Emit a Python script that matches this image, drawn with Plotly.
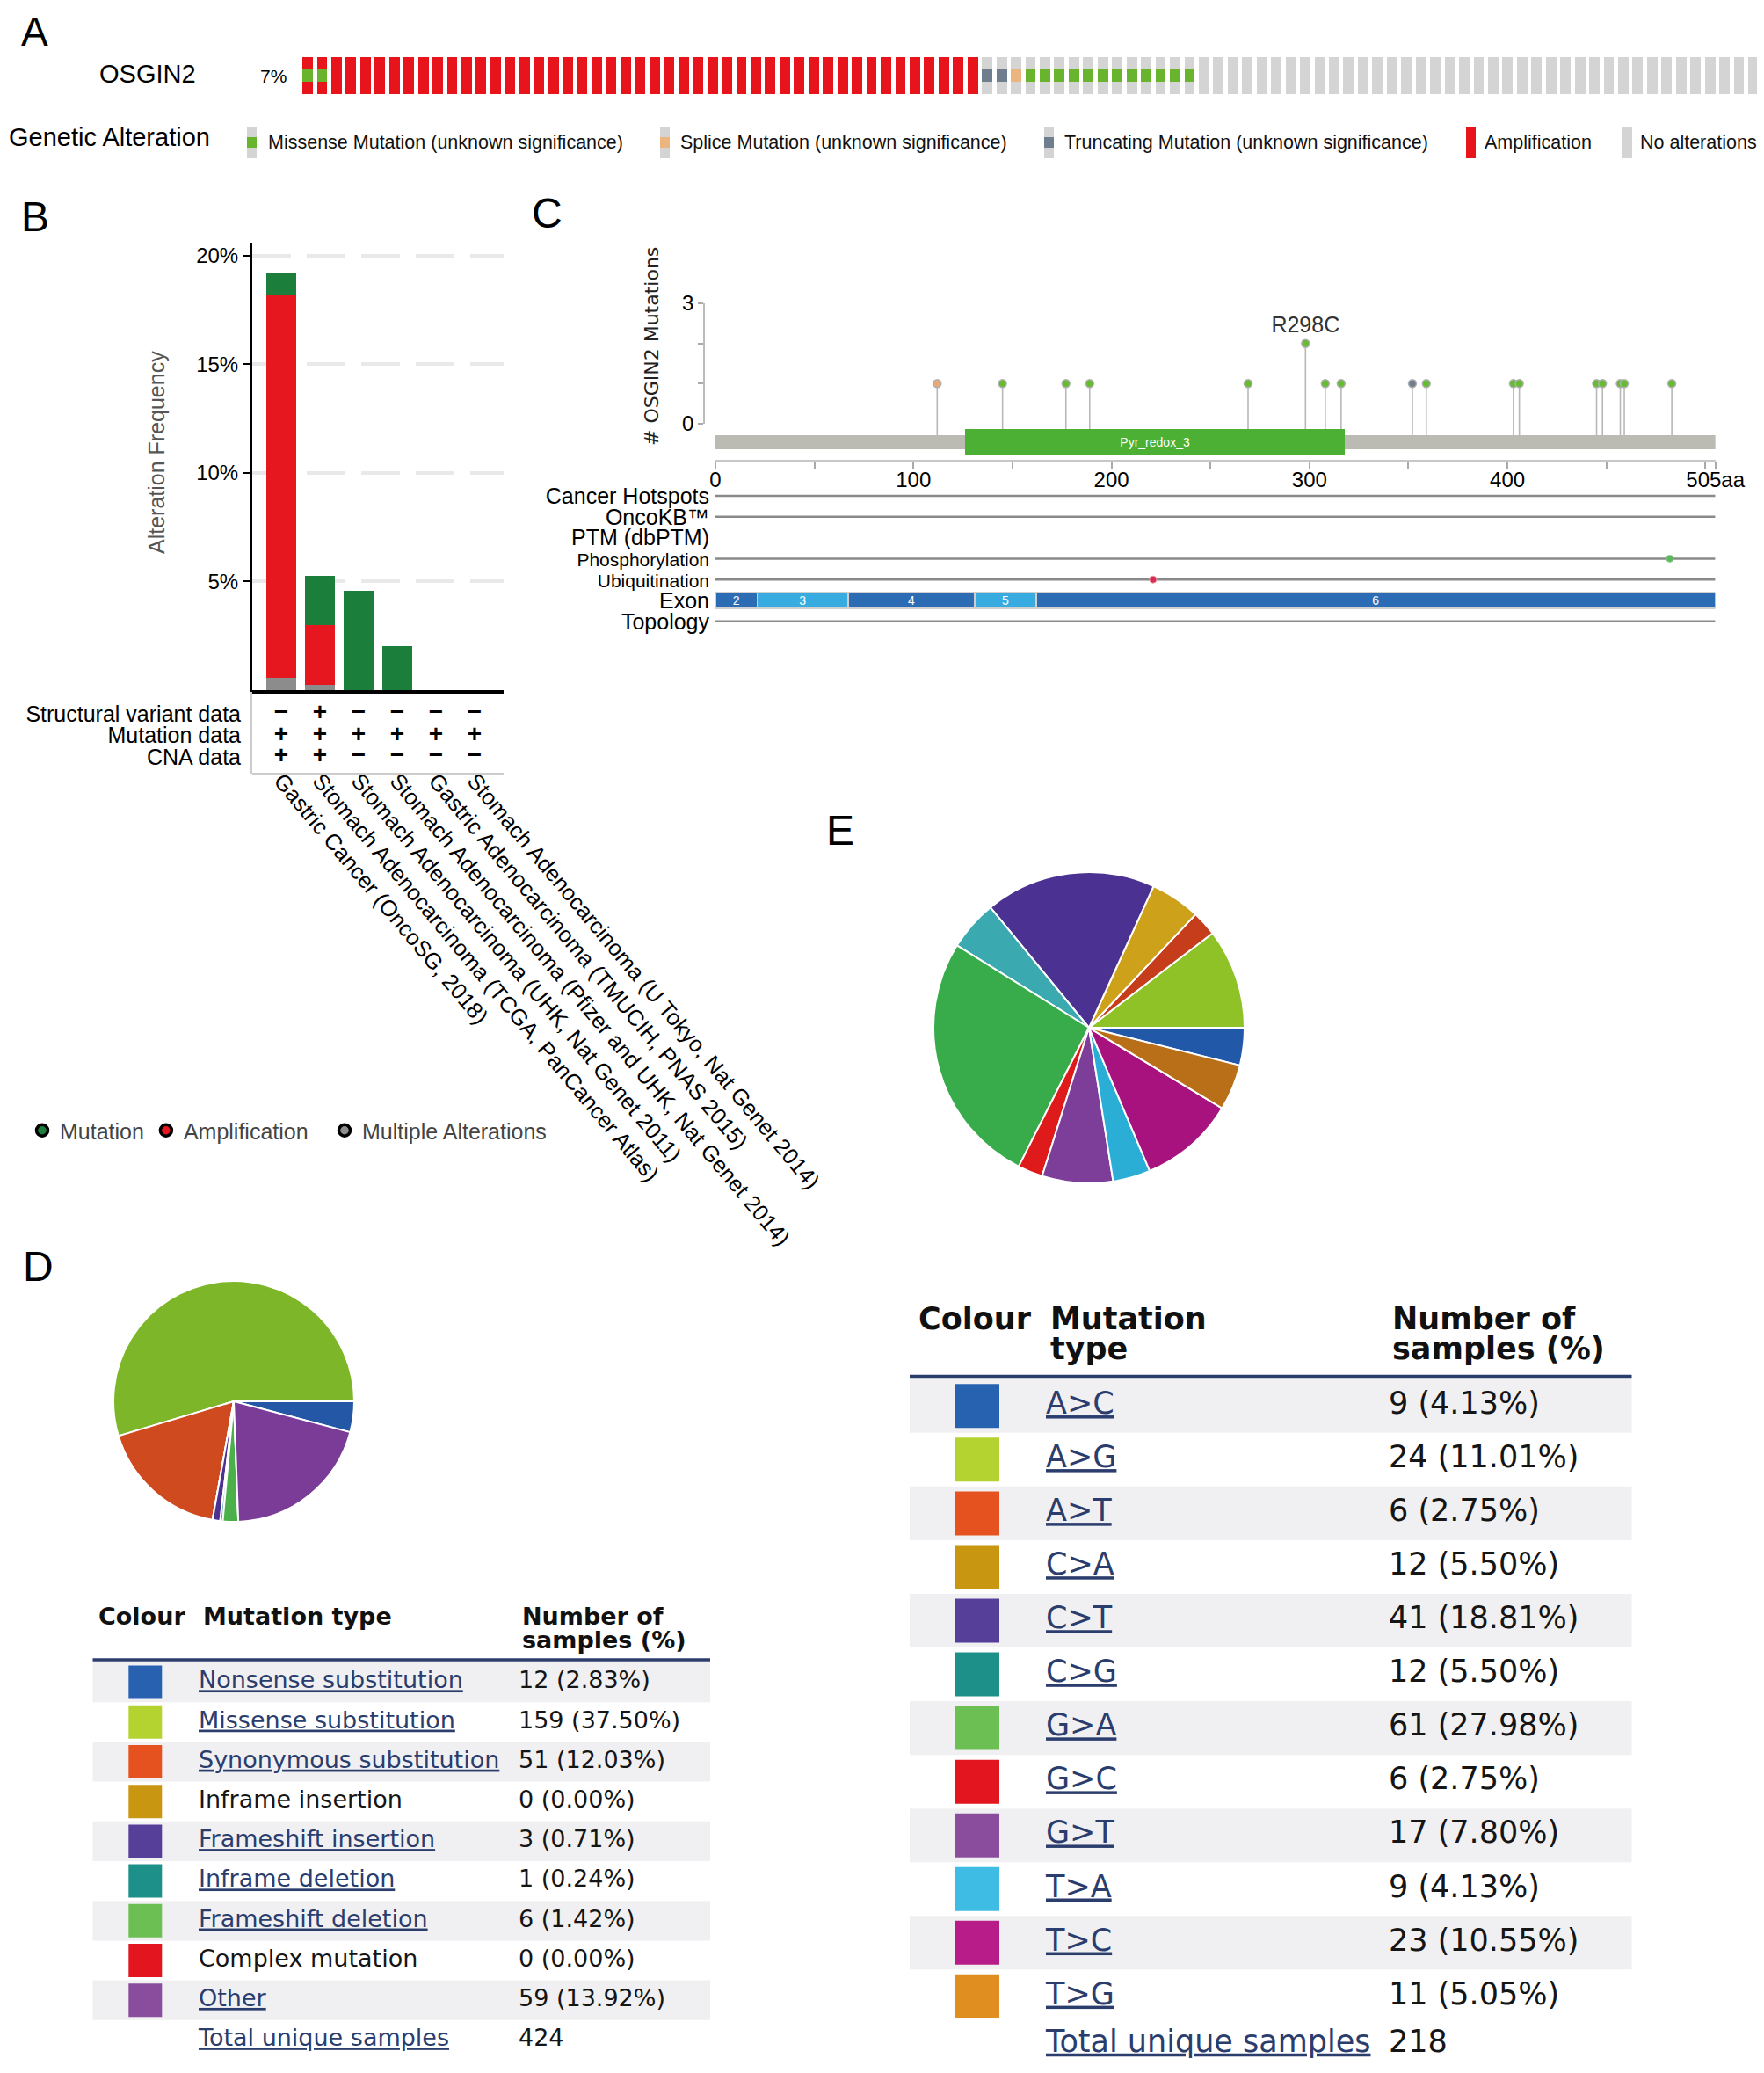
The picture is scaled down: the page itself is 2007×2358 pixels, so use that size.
import plotly.graph_objects as go

W, H = 2007, 2358          # reference picture size (px)
OFF = 8                    # page body margin that offsets the figure
FW, FH = W - OFF, H - 2 * OFF  # figure size so that figure px + OFF = picture px (no scrollbar)
ARIAL = "Liberation Sans, Arial, sans-serif"
VERD = "DejaVu Sans, Verdana, sans-serif"


def fx(p):
    return (p - OFF) / FW


def fy(p):
    return 1 - (p - OFF) / FH


def dom_x(a, b):
    return [fx(a), fx(b)]


def dom_y(top, bottom):
    return [fy(bottom), fy(top)]


# ============================ DATA ============================
# --- A: OncoPrint (samples in display order) ---
gene_name = "OSGIN2"
gene_freq = "7%"
alteration_types = ["Missense Mutation (unknown significance)",
                    "Splice Mutation (unknown significance)",
                    "Truncating Mutation (unknown significance)",
                    "Amplification", "No alterations"]
n_amp_with_missense = 2
n_amp_only = 45
n_truncating = 2
n_splice = 1
n_missense = 12
n_unaltered = 39

# --- B: cancer types summary ---
studies = ["Gastric Cancer (OncoSG, 2018)",
           "Stomach Adenocarcinoma (TCGA, PanCancer Atlas)",
           "Stomach Adenocarcinoma (UHK, Nat Genet 2011)",
           "Stomach Adenocarcinoma (Pfizer and UHK, Nat Genet 2014)",
           "Gastric Adenocarcinoma (TMUCIH, PNAS 2015)",
           "Stomach Adenocarcinoma (U Tokyo, Nat Genet 2014)"]
freq_multiple = [0.55, 0.26, 0.0, 0.0, 0.0, 0.0]
freq_amplification = [17.60, 2.72, 0.0, 0.0, 0.0, 0.0]
freq_mutation = [1.07, 2.26, 4.57, 2.02, 0.0, 0.0]
freq_ticks = [5, 10, 15, 20]
profile_rows = ["Structural variant data", "Mutation data", "CNA data"]
has_sv = [False, True, False, False, False, False]
has_mutation = [True, True, True, True, True, True]
has_cna = [True, True, False, False, False, False]
b_legend = ["Mutation", "Amplification", "Multiple Alterations"]

# --- C: lollipop plot ---
protein_length = 505
mut_position = [112, 145, 177, 189, 269, 298, 308, 316, 352, 359,
                403, 406, 445, 448, 457, 459, 483]
mut_count = [1, 1, 1, 1, 1, 2, 1, 1, 1, 1, 1, 1, 1, 1, 1, 1, 1]
mut_class = ["Splice", "Missense", "Missense", "Missense", "Missense",
             "Missense", "Missense", "Missense", "Truncating", "Missense",
             "Missense", "Missense", "Missense", "Missense", "Missense",
             "Missense", "Missense"]
top_mutation_label = "R298C"
domain_name = "Pyr_redox_3"
domain_start, domain_end = 126, 318
exon_start = [0, 21, 67, 131, 162]
exon_end = [21, 67, 131, 162, 505]
exon_name = ["2", "3", "4", "5", "6"]
phospho_sites = [482]
ubiquitin_sites = [221]
track_names = ["Cancer Hotspots", "OncoKB™", "PTM (dbPTM)", "Phosphorylation",
               "Ubiquitination", "Exon", "Topology"]
pos_ticks = [0, 50, 100, 150, 200, 250, 300, 350, 400, 450, 500, 505]
pos_ticktext = ["0", "", "100", "", "200", "", "300", "", "400", "", "", "505aa"]
count_ticks = [0, 1, 2, 3]
count_ticktext = ["0", "", "", "3"]

# --- D: mutation type table ---
d_types = ["Nonsense substitution", "Missense substitution", "Synonymous substitution",
           "Inframe insertion", "Frameshift insertion", "Inframe deletion",
           "Frameshift deletion", "Complex mutation", "Other"]
d_counts = [12, 159, 51, 0, 3, 1, 6, 0, 59]
d_linked = [True, True, True, False, True, True, True, False, True]
d_total = 424

# --- E: substitution table ---
e_types = ["A>C", "A>G", "A>T", "C>A", "C>T", "C>G", "G>A", "G>C", "G>T", "T>A", "T>C", "T>G"]
e_counts = [9, 24, 6, 12, 41, 12, 61, 6, 17, 9, 23, 11]
e_total = 218

# ============================ STYLE ============================
RED = "#e6171f"
GREEN_B = "#1b7f3b"
GRAY_B = "#8c8c8c"
alt_color = {alteration_types[0]: "#68b42c", alteration_types[1]: "#ecb47e",
             alteration_types[2]: "#6f7e8f", alteration_types[3]: "#e8141c",
             alteration_types[4]: "#d4d4d4"}
head_color = {"Missense": "#66bb33", "Splice": "#e9a874", "Truncating": "#6f7e8f"}
d_swatch = ["#2961b1", "#b5d330", "#e6521f", "#c99612", "#553f99", "#1d9189",
            "#6cbf53", "#e3151f", "#8a4c9d"]
d_pie = ["#2457a6", "#7db729", "#cf4a1e", "#c99612", "#4b3192", "#1e9189",
         "#4cb04a", "#e3151f", "#7b3c98"]
e_swatch = ["#2762b0", "#b5d330", "#e6521f", "#c99612", "#553f99", "#1d9189",
            "#6cbf53", "#e3151f", "#8a4c9d", "#3fbce3", "#b81c89", "#e08e1f"]
e_pie = ["#2158a8", "#8ec226", "#c63d1c", "#cda21a", "#4b3292", "#3aaab0",
         "#38ab4a", "#de1a1a", "#7d3e9a", "#2aaed6", "#a8127e", "#b96e18"]
LINK = "#2b3d6d"
BAND = "#f0f0f2"

fig = go.Figure()

# ============================ A: OncoPrint ============================
cna_state = ([alteration_types[3]] * (n_amp_with_missense + n_amp_only)
             + [alteration_types[4]] * (n_truncating + n_splice + n_missense + n_unaltered))
mut_state = ([alteration_types[0]] * n_amp_with_missense + [None] * n_amp_only
             + [alteration_types[2]] * n_truncating + [alteration_types[1]] * n_splice
             + [alteration_types[0]] * n_missense + [None] * n_unaltered)
n_samples = len(cna_state)
idx = list(range(n_samples))
fig.add_trace(go.Bar(x=idx, y=[1] * n_samples, base=[0] * n_samples, width=0.72,
                     marker=dict(color=[alt_color[s] for s in cna_state], line=dict(width=0)),
                     xaxis="x", yaxis="y", showlegend=False, hoverinfo="skip"))
mut_idx = [i for i in idx if mut_state[i]]
fig.add_trace(go.Bar(x=mut_idx, y=[1 / 3] * len(mut_idx), base=[1 / 3] * len(mut_idx), width=0.72,
                     marker=dict(color=[alt_color[mut_state[i]] for i in mut_idx], line=dict(width=0)),
                     xaxis="x", yaxis="y", showlegend=False, hoverinfo="skip"))
ONCO_C0, ONCO_P = 350.0, 16.45

# ============================ B: cancer types ============================
for vals, col in [(freq_multiple, GRAY_B), (freq_amplification, RED), (freq_mutation, GREEN_B)]:
    fig.add_trace(go.Bar(x=studies, y=vals, width=0.77, marker=dict(color=col, line=dict(width=0)),
                         xaxis="x2", yaxis="y2", showlegend=False, hoverinfo="skip"))
for name, col, lg in zip(b_legend, [GREEN_B, RED, GRAY_B], ["legend", "legend", "legend2"]):
    fig.add_trace(go.Scatter(x=[None], y=[None], mode="markers", name=name, legend=lg,
                             marker=dict(symbol="circle", size=13, color=col,
                                         line=dict(color="black", width=3.5)),
                             xaxis="x2", yaxis="y2", showlegend=True, hoverinfo="skip"))
# profile table (+ / -)
tx, ty, tt = [], [], []
for r, flags in enumerate([has_sv, has_mutation, has_cna]):
    for s, f in zip(studies, flags):
        tx.append(s)
        ty.append(r)
        tt.append("+" if f else "−")
fig.add_trace(go.Scatter(x=tx, y=ty, text=tt, mode="text", textposition="middle center",
                         textfont=dict(family=ARIAL, size=28, color="black", weight="bold"),
                         xaxis="x2", yaxis="y6", showlegend=False, hoverinfo="skip", cliponaxis=False))

# ============================ C: lollipop ============================
UNIT = 45.67          # px per mutation count
Y0 = 482.0            # px of count 0


def cy(p):
    return (Y0 - p) / UNIT


BACKBONE_Y, BACKBONE_H = cy(503), 16 / UNIT
DOMAIN_Y, DOMAIN_H = cy(502.5), 29 / UNIT
stem_x, stem_y = [], []
for p, c in zip(mut_position, mut_count):
    inside = domain_start <= p <= domain_end
    stem_x += [p, p, None]
    stem_y += [cy(488) if inside else cy(495), c, None]
fig.add_trace(go.Scatter(x=stem_x, y=stem_y, mode="lines", line=dict(color="#b8b8b8", width=1.6),
                         xaxis="x3", yaxis="y3", showlegend=False, hoverinfo="skip"))
fig.add_trace(go.Bar(orientation="h", y=[BACKBONE_Y], x=[protein_length], base=[0], width=BACKBONE_H,
                     marker=dict(color="#bbbbb4", line=dict(width=0)),
                     xaxis="x3", yaxis="y3", showlegend=False, hoverinfo="skip"))
fig.add_trace(go.Bar(orientation="h", y=[DOMAIN_Y], x=[domain_end - domain_start], base=[domain_start],
                     width=DOMAIN_H, marker=dict(color="#4cb034", line=dict(width=0)),
                     text=[domain_name], textposition="inside", insidetextanchor="middle", textangle=0,
                     constraintext="none", textfont=dict(family=ARIAL, size=14, color="white"),
                     xaxis="x3", yaxis="y3", showlegend=False, hoverinfo="skip"))
max_c = max(mut_count)
fig.add_trace(go.Scatter(x=mut_position, y=mut_count, mode="markers+text",
                         marker=dict(size=9, color=[head_color[c] for c in mut_class],
                                     line=dict(color="#b0b0b0", width=1.5)),
                         text=[top_mutation_label if c == max_c else "" for c in mut_count],
                         textposition="top center", textfont=dict(family=ARIAL, size=25, color="#333"),
                         xaxis="x3", yaxis="y4", showlegend=False, hoverinfo="skip", cliponaxis=False))
# feature tracks
line_x, line_y = [], []
for i, t in enumerate(track_names):
    if t in ("PTM (dbPTM)", "Exon"):
        continue
    line_x += [0, protein_length, None]
    line_y += [i, i, None]
fig.add_trace(go.Scatter(x=line_x, y=line_y, mode="lines", line=dict(color="#8a8a8a", width=2.5),
                         xaxis="x3", yaxis="y5", showlegend=False, hoverinfo="skip"))
exon_row = track_names.index("Exon")
fig.add_trace(go.Bar(orientation="h", y=[exon_row] * len(exon_start),
                     x=[e - s for s, e in zip(exon_start, exon_end)], base=exon_start, width=0.76,
                     marker=dict(color=["#2c6cb4" if i % 2 == 0 else "#38ace0" for i in range(len(exon_start))],
                                 line=dict(color="#cfcfcf", width=1.5)),
                     text=exon_name, textposition="inside", insidetextanchor="middle", constraintext="none",
                     textangle=0, textfont=dict(family=ARIAL, size=14, color="white"),
                     xaxis="x3", yaxis="y5", showlegend=False, hoverinfo="skip"))
fig.add_trace(go.Scatter(x=phospho_sites, y=[track_names.index("Phosphorylation")] * len(phospho_sites),
                         mode="markers", marker=dict(size=8, color="#5cb85c", line=dict(color="#9bd09b", width=1)),
                         xaxis="x3", yaxis="y5", showlegend=False, hoverinfo="skip", cliponaxis=False))
fig.add_trace(go.Scatter(x=ubiquitin_sites, y=[track_names.index("Ubiquitination")] * len(ubiquitin_sites),
                         mode="markers", marker=dict(size=8, color="#d42a5b", line=dict(color="#e99", width=1)),
                         xaxis="x3", yaxis="y5", showlegend=False, hoverinfo="skip", cliponaxis=False))
track_ticktext = [f'<span style="font-size:21px">{t}</span>' if t in ("Phosphorylation", "Ubiquitination") else t
                  for t in track_names]

# ============================ D / E pies ============================
fig.add_trace(go.Pie(values=d_counts, labels=d_types, marker=dict(colors=d_pie, line=dict(color="white", width=2)),
                     sort=False, direction="counterclockwise", rotation=90, textinfo="none",
                     domain=dict(x=dom_x(129, 403), y=dom_y(1457, 1731)), showlegend=False, hoverinfo="label+value"))
fig.add_trace(go.Pie(values=e_counts, labels=e_types, marker=dict(colors=e_pie, line=dict(color="white", width=2)),
                     sort=False, direction="counterclockwise", rotation=90, textinfo="none",
                     domain=dict(x=dom_x(1062, 1416), y=dom_y(992, 1346)), showlegend=False, hoverinfo="label+value"))


# ============================ tables ============================
def link(s):
    return f'<span style="text-decoration:underline">{s}</span>'


shapes = []


def add_table(xa, ya, names, counts, total, linked, colors, fs, sw, col_sw, col_txt, col_num,
              headers, rule_row, total_row, rule_w):
    n = len(names)
    rows = list(range(n))
    for r in range(0, n, 2):
        shapes.append(dict(type="rect", xref=f"{xa} domain", x0=0, x1=1, yref=ya, y0=r - 0.5, y1=r + 0.5,
                           fillcolor=BAND, line=dict(width=0), layer="below"))
    shapes.append(dict(type="line", xref=f"{xa} domain", x0=0, x1=1, yref=ya, y0=rule_row, y1=rule_row,
                       line=dict(color="#2b3d6b", width=rule_w)))
    fig.add_trace(go.Scatter(x=[col_sw] * n, y=rows, mode="markers",
                             marker=dict(symbol="square", size=sw, color=colors, line=dict(width=0)),
                             xaxis=xa, yaxis=ya, showlegend=False, hoverinfo="skip", cliponaxis=False))
    txt = [link(s) if l else s for s, l in zip(names, linked)] + [link("Total unique samples")]
    tcol = [LINK if l else "#151515" for l in linked] + [LINK]
    fig.add_trace(go.Scatter(x=[col_txt] * (n + 1), y=rows + [total_row], mode="text", text=txt,
                             textposition="middle right", textfont=dict(family=VERD, size=fs, color=tcol),
                             xaxis=xa, yaxis=ya, showlegend=False, hoverinfo="skip", cliponaxis=False))
    nums = [f"{c} ({100 * c / total:.2f}%)" for c in counts] + [str(total)]
    fig.add_trace(go.Scatter(x=[col_num] * (n + 1), y=rows + [total_row], mode="text", text=nums,
                             textposition="middle right", textfont=dict(family=VERD, size=fs, color="#151515"),
                             xaxis=xa, yaxis=ya, showlegend=False, hoverinfo="skip", cliponaxis=False))
    fig.add_trace(go.Scatter(x=[h[0] for h in headers], y=[h[1] for h in headers],
                             text=[f"<b>{h[2]}</b>" for h in headers], mode="text",
                             textposition="middle right", textfont=dict(family=VERD, size=fs, color="#111"),
                             xaxis=xa, yaxis=ya, showlegend=False, hoverinfo="skip", cliponaxis=False))


# D table geometry (px)
D_R0, D_P = 1913.6, 45.2


def drow(p):
    return (p - D_R0) / D_P


add_table("x4", "y7", d_types, d_counts, d_total, d_linked, d_swatch, 27, 38, 165.3, 226, 590,
          [(112, drow(1841), "Colour"), (231, drow(1841), "Mutation type"),
           (594, drow(1841), "Number of"), (594, drow(1868), "samples (%)")],
          drow(1888), 9, 3.5)
E_R0, E_P = 1599.3, 61.05


def erow(p):
    return (p - E_R0) / E_P


add_table("x5", "y8", e_types, e_counts, e_total, [True] * len(e_types), e_swatch, 35, 50, 1112, 1190, 1580,
          [(1045, erow(1503), "Colour"), (1195, erow(1503), "Mutation"), (1195, erow(1537), "type"),
           (1584, erow(1503), "Number of"), (1584, erow(1537), "samples (%)")],
          erow(1566), erow(2325), 4.5)

# ============================ annotations ============================
ann = []
for letter, x, y, fsz in [("A", 22, 36, 46), ("B", 22, 246, 48), ("C", 603, 243, 48),
                          ("D", 24, 1440, 48), ("E", 938, 944, 48)]:
    ann.append(dict(text=letter, x=fx(x), y=fy(y), xref="paper", yref="paper", xanchor="left",
                    yanchor="middle", showarrow=False, font=dict(family=ARIAL, size=fsz, color="black")))
ann.append(dict(text=gene_name, x=fx(168), y=fy(84), xref="paper", yref="paper", xanchor="center",
                yanchor="middle", showarrow=False, font=dict(family=ARIAL, size=29, color="black")))
ann.append(dict(text=gene_freq, x=fx(311), y=fy(86), xref="paper", yref="paper", xanchor="center",
                yanchor="middle", showarrow=False, font=dict(family=ARIAL, size=21, color="black")))
ann.append(dict(text="Genetic Alteration", x=fx(8), y=fy(156), xref="paper", yref="paper", xanchor="left",
                yanchor="middle", showarrow=False, font=dict(family=ARIAL, size=29, color="black")))
legA_glyph_x = [281, 751, 1188, 1668, 1846]
legA_text_x = [303, 772, 1209, 1687, 1864]
for t, gx, tx_ in zip(alteration_types, legA_glyph_x, legA_text_x):
    is_cna = t in (alteration_types[3], alteration_types[4])
    shapes.append(dict(type="rect", xref="paper", yref="paper", x0=fx(gx), x1=fx(gx + 11), y0=fy(180), y1=fy(145),
                       fillcolor=alt_color[t] if is_cna else alt_color[alteration_types[4]], line=dict(width=0)))
    if not is_cna:
        shapes.append(dict(type="rect", xref="paper", yref="paper", x0=fx(gx), x1=fx(gx + 11), y0=fy(168),
                           y1=fy(156), fillcolor=alt_color[t], line=dict(width=0)))
    ann.append(dict(text=t, x=fx(tx_), y=fy(162), xref="paper", yref="paper", xanchor="left", yanchor="middle",
                    showarrow=False, font=dict(family=ARIAL, size=21.5, color="#111")))
ann.append(dict(text="Alteration Frequency", textangle=-90, x=fx(178), y=fy(515), xref="paper", yref="paper",
                xanchor="center", yanchor="middle", showarrow=False, font=dict(family=ARIAL, size=25, color="#555")))
ann.append(dict(text="# OSGIN2 Mutations", textangle=-90, x=fx(741), y=fy(394), xref="paper", yref="paper",
                xanchor="center", yanchor="middle", showarrow=False, font=dict(family=VERD, size=22, color="#222")))
# bottom rule of profile table
shapes.append(dict(type="line", xref="x2 domain", x0=0, x1=1, yref="y6 domain", y0=0, y1=0,
                   line=dict(color="#cccccc", width=2)))

# ============================ layout ============================
hidden = dict(visible=False, showgrid=False, zeroline=False, automargin=False)
legend_style = dict(orientation="h", yanchor="middle", xanchor="left", traceorder="normal",
                    font=dict(family=ARIAL, size=25, color="#444"), bgcolor="rgba(0,0,0,0)",
                    itemclick=False, itemdoubleclick=False)
fig.update_layout(
    template="none",
    width=FW, height=FH, margin=dict(l=0, r=0, t=0, b=0, pad=0, autoexpand=False),
    paper_bgcolor="white", plot_bgcolor="rgba(0,0,0,0)",
    font=dict(family=ARIAL, color="black"),
    barmode="stack", showlegend=True,
    legend=dict(x=fx(28), y=fy(1286), **legend_style),
    legend2=dict(x=fx(372), y=fy(1286), **legend_style),
    xaxis=dict(domain=dom_x(ONCO_C0 - ONCO_P / 2, ONCO_C0 + ONCO_P * (n_samples - 0.5)),
               range=[-0.5, n_samples - 0.5], anchor="y", **hidden),
    yaxis=dict(domain=dom_y(65, 107), range=[0, 1], anchor="x", **hidden),
    xaxis2=dict(domain=dom_x(287, 573), range=[-0.75, 5.75], anchor="y2", type="category",
                showline=True, linecolor="black", linewidth=4, ticks="", showgrid=False, zeroline=False,
                automargin=False,
                tickangle=50, ticklabelstandoff=74, tickfont=dict(family=ARIAL, size=25.5, color="black")),
    yaxis2=dict(domain=dom_y(276, 785), range=[0, (785 - 276) / 24.72], anchor="x2",
                tickvals=freq_ticks, ticktext=[f"{v}%" for v in freq_ticks],
                ticks="outside", ticklen=8, tickwidth=2, tickcolor="black", automargin=False,
                showline=True, linecolor="black", linewidth=3, zeroline=False,
                showgrid=True, gridcolor="#e9e9e9", gridwidth=3.5, griddash="44px,18px",
                tickfont=dict(family=ARIAL, size=24, color="black")),
    yaxis6=dict(domain=dom_y(787, 880), range=[(880 - 812) / 24.5, (787 - 812) / 24.5], anchor="x2",
                tickvals=[0, 1, 2], ticktext=profile_rows, ticks="", showline=True, linecolor="#cccccc",
                linewidth=2, showgrid=False, zeroline=False, ticklabelstandoff=6, automargin=False,
                tickfont=dict(family=ARIAL, size=25, color="black")),
    xaxis3=dict(domain=dom_x(814, 814 + protein_length * 2.2528), range=[0, protein_length], anchor="y3",
                tickvals=pos_ticks, ticktext=pos_ticktext, ticks="outside", ticklen=8, tickwidth=1.5,
                tickcolor="#aaaaaa", showline=True, linecolor="#c8c8c8", linewidth=3, automargin=False,
                ticklabelstandoff=-9,
                showgrid=False, zeroline=False, tickfont=dict(family=ARIAL, size=24, color="black")),
    yaxis3=dict(domain=dom_y(330, 523), range=[cy(523), cy(330)], anchor="x3", **hidden),
    yaxis4=dict(domain=dom_y(345, 482), range=[0, 3], anchor="free", position=fx(801),
                tickvals=count_ticks, ticktext=count_ticktext, ticks="outside", ticklen=6, tickwidth=1.5,
                tickcolor="#aaaaaa", showline=True, linecolor="#bbbbbb", linewidth=1.5, automargin=False,
                showgrid=False, zeroline=False, tickfont=dict(family=ARIAL, size=24, color="black")),
    yaxis5=dict(domain=dom_y(552.1, 718.7), range=[6.5, -0.5], anchor="x3",
                tickvals=list(range(len(track_names))), ticktext=track_ticktext, ticks="",
                showline=False, showgrid=False, zeroline=False, ticklabelstandoff=6, automargin=False,
                tickfont=dict(family=ARIAL, size=25, color="black")),
    xaxis4=dict(domain=dom_x(105.5, 808), range=[105.5, 808], anchor="y7", **hidden),
    yaxis7=dict(domain=dom_y(1815, 2350), range=[drow(2350), drow(1815)], anchor="x4", **hidden),
    xaxis5=dict(domain=dom_x(1035, 1856.5), range=[1035, 1856.5], anchor="y8", **hidden),
    yaxis8=dict(domain=dom_y(1470, 2350), range=[erow(2350), erow(1470)], anchor="x5", **hidden),
    shapes=shapes, annotations=ann,
)

fig.write_html("out.html")
